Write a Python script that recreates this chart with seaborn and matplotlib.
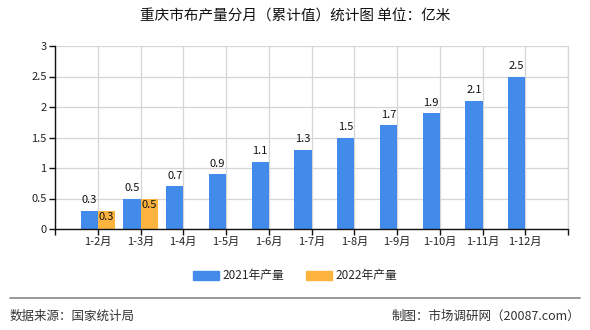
import matplotlib
matplotlib.use("Agg")
import matplotlib.pyplot as plt
import seaborn as sns
import pandas as pd
import numpy as np

months = ["1-2月", "1-3月", "1-4月", "1-5月", "1-6月", "1-7月", "1-8月",
          "1-9月", "1-10月", "1-11月", "1-12月"]
output_2021 = [0.3, 0.5, 0.7, 0.9, 1.1, 1.3, 1.5, 1.7, 1.9, 2.1, 2.5]
output_2022 = [0.3, 0.5, None, None, None, None, None, None, None, None, None]
series_names = ["2021年产量", "2022年产量"]
y_ticks = [0, 0.5, 1, 1.5, 2, 2.5, 3]
y_tick_labels = ["0", "0.5", "1", "1.5", "2", "2.5", "3"]

sns.set_theme(style="white")
plt.rcParams["font.family"] = ["Noto Sans CJK SC", "DejaVu Sans"]

df = pd.DataFrame({
    "month": months * 2,
    "value": output_2021 + [np.nan if v is None else v for v in output_2022],
    "series": [series_names[0]] * len(months) + [series_names[1]] * len(months),
})

colors = {series_names[0]: "#428BEA", series_names[1]: "#FCB43F"}

fig = plt.figure(figsize=(5.9, 3.3), dpi=100)
ax = fig.add_axes([55 / 590, 1 - 229 / 330, 513 / 590, 183 / 330])

sns.barplot(data=df, x="month", y="value", hue="series", order=months,
            hue_order=series_names, palette=colors, width=0.8, dodge=True,
            saturation=1, legend=False, linewidth=0, ax=ax)

ax.set_xlim(-1, len(months))
ax.set_ylim(0, 3)
ax.set_yticks(y_ticks)
ax.set_yticklabels(y_tick_labels, fontsize=8, color="#222222")
ax.set_xticks(range(-1, len(months) + 1))
ax.set_xticklabels([""] + months + [""], fontsize=8, color="#222222")
ax.set_xlabel("")
ax.set_ylabel("")

ax.grid(True, axis="both", color="#D5D5D5", linewidth=0.9)
ax.set_axisbelow(True)
ax.spines["top"].set_visible(False)
ax.spines["right"].set_color("#D5D5D5")
ax.spines["right"].set_linewidth(0.9)
ax.spines["left"].set_color("#111111")
ax.spines["bottom"].set_color("#111111")
ax.spines["left"].set_linewidth(1)
ax.spines["bottom"].set_linewidth(1)
ax.tick_params(axis="both", which="both", length=4, width=1, color="#111111",
               direction="out", pad=2, left=True, bottom=True)

# Value labels: 2021 above bars, 2022 just inside the bar top
for cont, name in zip(ax.containers, series_names):
    for bar in cont:
        h = bar.get_height()
        if np.isnan(h):
            continue
        xc = bar.get_x() + bar.get_width() / 2
        if name == series_names[0]:
            ax.annotate(f"{h:g}", (xc, h), xytext=(0, 4), textcoords="offset points",
                        ha="center", va="bottom", fontsize=8, color="#111111")
        else:
            ax.annotate(f"{h:g}", (xc, h), xytext=(0, -1), textcoords="offset points",
                        ha="center", va="top", fontsize=8, color="#111111")

fig.text(0.5, 1 - 17 / 330, "重庆市布产量分月（累计值）统计图 单位：亿米",
         ha="center", va="center", fontsize=10.5, color="#111111")

# Legend
handles = [plt.Rectangle((0, 0), 1, 1, color=colors[n]) for n in series_names]
fig.legend(handles, series_names, loc="center", bbox_to_anchor=(0.5, 1 - 276 / 330),
           ncol=2, frameon=False, fontsize=8.5, handlelength=2.2, handleheight=0.8,
           columnspacing=1.8, handletextpad=0.3)

# Footer
fig.add_artist(plt.Line2D([10 / 590, 580 / 590], [1 - 298 / 330] * 2,
                          color="#888888", linewidth=1.2))
fig.text(10 / 590, 1 - 316 / 330, "数据来源：国家统计局", ha="left", va="center",
         fontsize=9, color="#333333")
fig.text(580 / 590, 1 - 316 / 330, "制图：市场调研网（20087.com）", ha="right",
         va="center", fontsize=9, color="#333333")

fig.savefig("out.png", dpi=100)
